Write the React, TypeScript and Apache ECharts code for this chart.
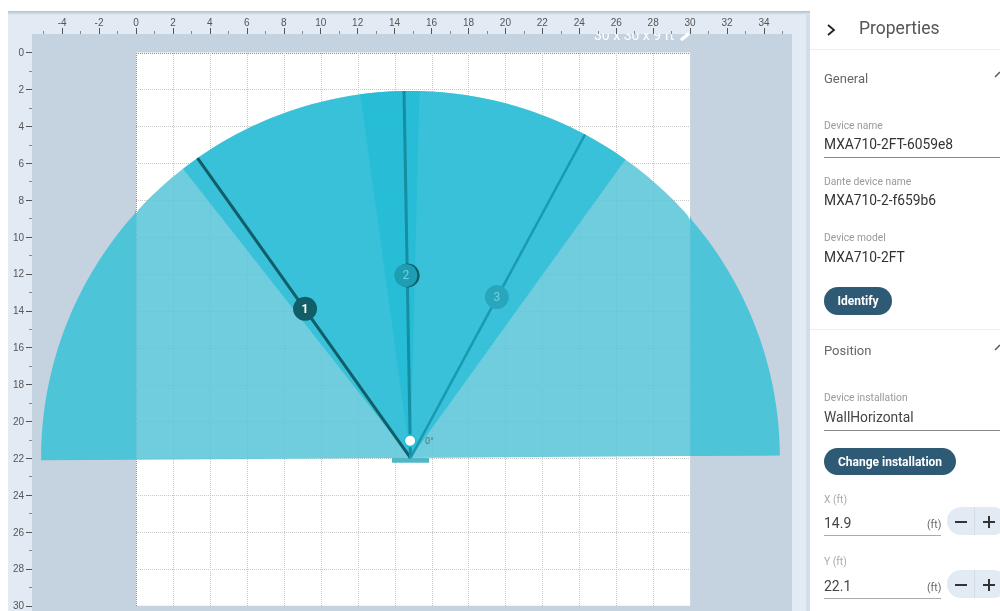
import React, { useEffect, useRef } from "react";
import * as echarts from "echarts";

const xMajorTicks = [-4, -2, 0, 2, 4, 6, 8, 10, 12, 14, 16, 18, 20, 22, 24, 26, 28, 30, 32, 34];
const xMinorTicks = [-5, -3, -1, 1, 3, 5, 7, 9, 11, 13, 15, 17, 19, 21, 23, 25, 27, 29, 31, 33, 35];
const yMajorTicks = [0, 2, 4, 6, 8, 10, 12, 14, 16, 18, 20, 22, 24, 26, 28, 30];
const yMinorTicks = [1, 3, 5, 7, 9, 11, 13, 15, 17, 19, 21, 23, 25, 27, 29];
const roomGridLines = [0, 2, 4, 6, 8, 10, 12, 14, 16, 18, 20, 22, 24, 26, 28, 30];
const roomSize = [30, 30];

const origin = [14.86, 21.98];
const coverageRadius = [20.0, 19.9];
const coverageAngles = [-90.37, 89.63];
const beamSpans = [[-38.0, 1.4], [-7.8, 35.6]];
const beamNames = ["1", "2", "3"];
const beamAngles = [-35.2, -1.0, 28.2];
const handleRadius = 9.9;
const dotPosition = [14.84, 21.05];
const barSpan = [13.86, 15.87];
const barY = [21.98, 22.24];

const beamLineColors = ["#0f5e68", "#158ea3", "#1a9ab0"];
const handleColors = ["#0f5e68", "#1e9eb3", "#28a6bc"];
const handleTextColors = ["#ffffff", "#6ed0e0", "#6ed0e0"];

const FONT = "Roboto";
const GRID_L = 32, GRID_T = 34, GRID_W = 760, GRID_H = 577;
const xMin = (GRID_L - 136) / 18.47, xMax = (GRID_L + GRID_W - 136) / 18.47;
const yMin = (GRID_T - 52.6) / 18.44, yMax = (GRID_T + GRID_H - 52.6) / 18.44;

function arcPoint(deg: number, rx = coverageRadius[0], ry = coverageRadius[1]) {
  const a = (deg * Math.PI) / 180;
  return [origin[0] + rx * Math.sin(a), origin[1] - ry * Math.cos(a)];
}
function sectorPts(a0: number, a1: number, withCenter: boolean) {
  const pts: number[][] = withCenter ? [origin] : [];
  const n = Math.ceil(Math.abs(a1 - a0));
  for (let i = 0; i <= n; i++) pts.push(arcPoint(a0 + ((a1 - a0) * i) / n));
  return pts;
}
const clampX = (pts: number[][], lo: number, hi: number) =>
  pts.map((p) => [Math.min(hi, Math.max(lo, p[0])), p[1]]);
// the arc, then its chord with vertices where the chord meets the room's sides
function coveragePts() {
  const arc = sectorPts(coverageAngles[0], coverageAngles[1], false);
  const a = arc[0], b = arc[arc.length - 1];
  const chordY = (x: number) => a[1] + ((x - a[0]) * (b[1] - a[1])) / (b[0] - a[0]);
  return [...arc, [roomSize[0], chordY(roomSize[0])], [0, chordY(0)]];
}

function tx(text: string, x: number, y: number, size: number, fill: string, extra: any = {}) {
  return {
    type: "text", x, y, z: 100, silent: true,
    style: { text, fontSize: size, fill, fontFamily: FONT, textVerticalAlign: "middle", verticalAlign: "middle", ...extra },
  };
}
function ln(x1: number, y1: number, x2: number, y2: number, stroke: string, lineWidth = 1) {
  return { type: "line", z: 100, silent: true, shape: { x1, y1, x2, y2 }, style: { stroke, lineWidth } };
}
function rc(x: number, y: number, width: number, height: number, fill: any, r = 0, z = 100) {
  return { type: "rect", z, silent: true, shape: { x, y, width, height, r }, style: { fill } };
}
function pl(points: number[][], stroke: string, lineWidth: number, z = 100) {
  return { type: "polyline", z, silent: true, shape: { points }, style: { stroke, lineWidth, fill: "none" } };
}

const FRAME = "#e2eaf3";
const GRAY = "#c5d2df";

const chrome: any[] = [
  rc(0, 0, 1000, 611, "#ffffff", 0, -12),
  rc(8, 11, 802, 600, FRAME, 0, -11),
  rc(806, 11, 4, 600, "#d3dce7", 0, -11),
  rc(GRID_L, GRID_T, GRID_W, GRID_H, GRAY, 0, -10),
  { ...tx("30 x 30 x 9 ft", 594, 35, 14, "#ffffff"), z: -9 },
  rc(8, 11, 798, 22.5, FRAME, 0, -8),
  rc(8, 11, 802, 4, new echarts.graphic.LinearGradient(0, 0, 0, 1, [
    { offset: 0, color: "#b4bfcb" }, { offset: 1, color: FRAME },
  ]), 0, -7),
  pl([[681, 40], [689, 33.5]], "#ffffff", 3.4, -7),
  // Panel
  pl([[828, 25], [834, 30], [828, 35]], "#222222", 1.8),
  tx("Properties", 859, 28, 17.5, "#555555"),
  ln(810, 49.5, 1000, 49.5, "#eeeeee"),
  tx("General", 824, 78, 13, "#666666"),
  pl([[995, 77], [1000, 72]], "#555555", 1.4),
  tx("Device name", 824, 125, 10.3, "#999999"),
  tx("MXA710-2FT-6059e8", 824, 144, 13.8, "#333333"),
  ln(824, 157.5, 1000, 157.5, "#888888"),
  tx("Dante device name", 824, 181, 10.3, "#999999"),
  tx("MXA710-2-f659b6", 824, 200, 13.8, "#333333"),
  tx("Device model", 824, 237, 10.3, "#999999"),
  tx("MXA710-2FT", 824, 257, 13.8, "#333333"),
  rc(824, 287, 68, 28, "#2f5a75", 14),
  tx("Identify", 858, 301, 12, "#ffffff", { align: "center", textAlign: "center", fontWeight: "bold" }),
  ln(810, 329.5, 1000, 329.5, "#eeeeee"),
  tx("Position", 824, 350, 13, "#666666"),
  pl([[995, 350], [1000, 345]], "#555555", 1.4),
  tx("Device installation", 824, 397, 10.3, "#999999"),
  tx("WallHorizontal", 824, 417, 13.8, "#444444"),
  ln(824, 430.5, 1000, 430.5, "#888888"),
  rc(824, 448, 132, 27, "#2f5a75", 13.5),
  tx("Change installation", 890, 461.5, 12, "#ffffff", { align: "center", textAlign: "center", fontWeight: "bold" }),
  tx("X (ft)", 824, 499, 10.3, "#aaaaaa"),
  tx("14.9", 824, 523, 14, "#444444"),
  tx("(ft)", 927, 524, 10.5, "#666666"),
  ln(824, 535.5, 941, 535.5, "#aaaaaa"),
  rc(947, 507, 60, 28, FRAME, 14),
  ln(974.5, 507, 974.5, 535, "#d3dce7"),
  ln(955, 522, 967, 522, "#333333", 2),
  ln(983, 522, 995, 522, "#333333", 2),
  ln(989, 516, 989, 528, "#333333", 2),
  tx("Y (ft)", 824, 561, 10.3, "#aaaaaa"),
  tx("22.1", 824, 586, 14, "#444444"),
  tx("(ft)", 927, 587, 10.5, "#666666"),
  ln(824, 598.5, 941, 598.5, "#aaaaaa"),
  rc(947, 570, 60, 28, FRAME, 14),
  ln(974.5, 570, 974.5, 598, "#d3dce7"),
  ln(955, 585, 967, 585, "#333333", 2),
  ln(983, 585, 995, 585, "#333333", 2),
  ln(989, 579, 989, 591, "#333333", 2),
];

function axisBase(pos: string, min: number, max: number, labels: number[] | null, ticks: number[], len: number, color: string, margin = 2) {
  return {
    type: "value", position: pos, min, max, z: -5, scale: true,
    axisLine: { show: false, onZero: false },
    splitLine: { show: false },
    axisTick: { show: true, length: len, customValues: ticks, lineStyle: { color, width: 1 } },
    axisLabel: labels
      ? { show: true, customValues: labels, margin, fontSize: 10, color: "#555555", fontFamily: "Liberation Sans", hideOverlap: false }
      : { show: false },
  };
}

function App() {
  const ref = useRef<HTMLDivElement>(null);
  useEffect(() => {
    const chart = echarts.init(ref.current!, null, { renderer: "svg" });
    const poly = (api: any, pts: number[][], fill: string) => ({
      type: "polygon", silent: true,
      shape: { points: pts.map((p) => api.coord(p)) },
      style: { fill },
    });
    const handlePos = (i: number) => arcPoint(beamAngles[i], handleRadius, handleRadius);
    chart.setOption({
      animation: false,
      graphic: { elements: chrome },
      grid: { left: GRID_L, top: GRID_T, width: GRID_W, height: GRID_H, show: false },
      xAxis: [
        axisBase("top", xMin, xMax, xMajorTicks, xMajorTicks, 6, "#555555", 7),
        axisBase("top", xMin, xMax, null, xMinorTicks, 3, "#888888"),
      ],
      yAxis: [
        { ...axisBase("left", yMin, yMax, yMajorTicks, yMajorTicks, 6, "#555555", 8), inverse: true },
        { ...axisBase("left", yMin, yMax, null, yMinorTicks, 3, "#888888"), inverse: true },
      ],
      series: [
        {
          type: "custom", z: 1, silent: true, clip: false,
          data: [[0, 0]],
          renderItem: (_: any, api: any) => {
            const tl = api.coord([0, 0]);
            const br = api.coord(roomSize);
            const kids: any[] = [{
              type: "rect", shape: { x: tl[0], y: tl[1], width: br[0] - tl[0], height: br[1] - tl[1] }, style: { fill: "#ffffff" },
            }];
            roomGridLines.forEach((v) => {
              const a = api.coord([v, 0]), b = api.coord([v, roomSize[1]]);
              const c = api.coord([0, v]), d = api.coord([roomSize[0], v]);
              const s = { stroke: v === 0 ? "#8f8f8f" : "#c8c8c8", lineWidth: 1, lineDash: [1, 1], fill: "none" };
              const sx = Math.round(a[0]) + 0.5, sy = Math.round(c[1]) + 0.5;
              if (v < roomSize[0]) {
                kids.push({ type: "line", shape: { x1: sx, y1: Math.round(a[1]), x2: sx, y2: Math.round(b[1]) }, style: s });
                kids.push({ type: "line", shape: { x1: Math.round(c[0]), y1: sy, x2: Math.round(d[0]), y2: sy }, style: s });
              }
            });
            return { type: "group", children: kids };
          },
        },
        {
          type: "custom", z: 2, silent: true, clip: false,
          data: [[0, 0]],
          renderItem: (_: any, api: any) => {
            const base = coveragePts();
            const kids: any[] = [
              poly(api, clampX(base, -100, 0), "#4dc4d8"),
              poly(api, clampX(base, roomSize[0], 100), "#4dc4d8"),
              poly(api, clampX(base, 0, roomSize[0]), "rgba(86,196,216,0.85)"),
            ];
            beamSpans.forEach((sp) => kids.push(poly(api, sectorPts(sp[0], sp[1], true), "rgba(30,188,214,0.667)")));
            const b0 = api.coord([barSpan[0], barY[0]]), b1 = api.coord([barSpan[1], barY[1]]);
            kids.push({ type: "rect", shape: { x: b0[0], y: b0[1], width: b1[0] - b0[0], height: b1[1] - b0[1] }, style: { fill: "#4fb8c8" } });
            beamAngles.forEach((a, i) => {
              const p = api.coord(origin), q = api.coord(arcPoint(a));
              kids.push({
                type: "line", shape: { x1: p[0], y1: p[1], x2: q[0], y2: q[1] },
                style: { stroke: beamLineColors[i], lineWidth: i === 2 ? 2.5 : 3 },
              });
            });
            const h2 = api.coord(handlePos(1));
            kids.push({ type: "circle", shape: { cx: h2[0] + 0.4, cy: h2[1], r: 12 }, style: { fill: "#0f5e68" } });
            const d = api.coord(dotPosition);
            kids.push({ type: "circle", shape: { cx: d[0], cy: d[1], r: 6.5 }, style: { fill: "#22bed6" } });
            kids.push({ type: "circle", shape: { cx: d[0], cy: d[1], r: 5 }, style: { fill: "#ffffff" } });
            kids.push({
              type: "text", x: d[0] + 15, y: d[1],
              style: { text: "0°", fontSize: 9, fill: "#5f6b70", fontFamily: FONT, verticalAlign: "middle" },
            });
            return { type: "group", children: kids };
          },
        },
        {
          type: "scatter", z: 4, silent: true, clip: false,
          symbol: "circle",
          data: beamNames.map((name, i) => {
            const p = handlePos(i);
            return {
              name,
              value: [i === 1 ? p[0] - 0.08 : p[0], p[1]],
              symbolSize: i === 1 ? 23 : 24,
              itemStyle: { color: handleColors[i], opacity: 1 },
              label: {
                show: true, position: "inside", formatter: name, fontSize: 12, fontFamily: FONT,
                fontWeight: i === 0 ? "bold" : "normal", color: handleTextColors[i],
              },
            };
          }),
        },
      ],
    });
    return () => chart.dispose();
  }, []);
  return <div ref={ref} style={{ position: "fixed", left: 0, top: 0, width: 1000, height: 611 }} />;
}

export default App;
